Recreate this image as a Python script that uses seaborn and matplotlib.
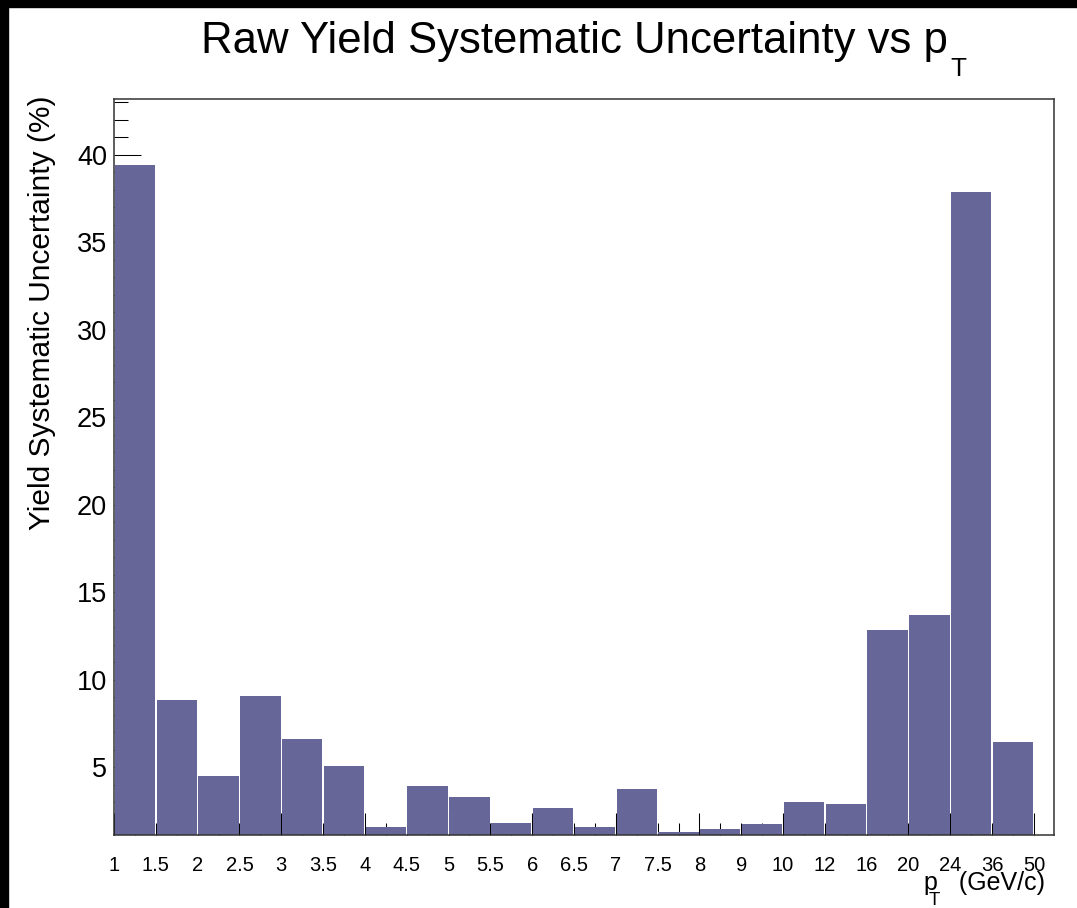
import numpy as np
import pandas as pd
import matplotlib
matplotlib.use("Agg")
import matplotlib.pyplot as plt
from matplotlib.patches import Rectangle
from matplotlib.ticker import FixedLocator, FixedFormatter, MultipleLocator
import seaborn as sns

# pT bin edges (GeV/c), drawn as equal-width bins labelled by their edges
pt_edges = ["1", "1.5", "2", "2.5", "3", "3.5", "4", "4.5", "5", "5.5", "6", "6.5",
            "7", "7.5", "8", "9", "10", "12", "16", "20", "24", "36", "50"]
# raw-yield systematic uncertainty per bin (%)
syst_unc = [39.42, 8.81, 4.49, 9.05, 6.62, 5.04, 1.59, 3.92, 3.29, 1.79, 2.66, 1.59,
            3.73, 1.29, 1.46, 1.73, 2.98, 2.87, 12.82, 13.72, 37.86, 6.41]
y_major = [5, 10, 15, 20, 25, 30, 35, 40]

sns.set_theme(style="white")
plt.rcParams["font.family"] = ["Liberation Sans", "DejaVu Sans"]
plt.rcParams["text.color"] = "black"
plt.rcParams["axes.labelcolor"] = "black"
plt.rcParams["xtick.color"] = "black"
plt.rcParams["ytick.color"] = "black"

W, H = 1077, 908
n_bins = len(syst_unc)
df = pd.DataFrame({"bin": np.arange(n_bins) + 0.5, "unc": syst_unc})
edge_pos = np.arange(len(pt_edges))

fig = plt.figure(figsize=(W / 100, H / 100), dpi=100, facecolor="white")
ax = fig.add_axes([114 / W, 1 - 835 / H, 940 / W, 736 / H])
ax.set_facecolor("white")

# bars sit above the tick marks; the thin gaps between bars let ticks show through
sns.histplot(data=df, x="bin", weights="unc", bins=[float(e) for e in edge_pos],
             shrink=0.965, color="#666699", alpha=1, linewidth=0,
             ax=ax, zorder=3)

ax.set_xlim(0, 22.48)
ax.set_ylim(1.12, 43.18)

# x axis: labels at every bin edge, long ticks every second edge
ax.xaxis.set_major_locator(FixedLocator(edge_pos[::2]))
ax.xaxis.set_major_formatter(FixedFormatter(pt_edges[::2]))
ax.xaxis.set_minor_locator(FixedLocator(edge_pos[1::2]))
ax.xaxis.set_minor_formatter(FixedFormatter(pt_edges[1::2]))
ax.tick_params(axis="x", which="both", direction="in", labelsize=14.5, pad=15.3,
               color="black", width=0.75, bottom=True, top=False)
ax.tick_params(axis="x", which="major", length=15.8)
ax.tick_params(axis="x", which="minor", length=8.6)

# short ticks at bin centres
sec = ax.secondary_xaxis("bottom")
sec.set_xticks(edge_pos[:-1] + 0.5)
sec.tick_params(direction="in", length=8.6, width=0.75, color="black",
                labelbottom=False)
sec.spines["bottom"].set_visible(False)

# y axis
ax.yaxis.set_major_locator(FixedLocator(y_major))
ax.yaxis.set_minor_locator(MultipleLocator(1))
ax.tick_params(axis="y", which="both", direction="in", labelsize=19.5, pad=5,
               color="black", width=0.75, left=True, right=False)
ax.tick_params(axis="y", which="major", length=19.4)
ax.tick_params(axis="y", which="minor", length=10)

for sp in ax.spines.values():
    sp.set_visible(True)
    sp.set_color("#333333")
    sp.set_linewidth(1.1)
    sp.set_zorder(4)

ax.set_ylabel("Yield Systematic Uncertainty (%)", fontsize=21.5, loc="top")
ax.yaxis.set_label_coords(-0.062, 1.005)

# x title: "p", subscript "T" placed below it, then the unit
ax.set_xlabel("p   (GeV/c)", fontsize=18, loc="right")
ax.xaxis.label.set_verticalalignment("baseline")
ax.xaxis.set_label_coords(0.9899, -0.0745)
fig.text(929 / W, 1 - 905 / H, "T", ha="left", va="baseline", fontsize=13.4)

# title with subscript T
title = fig.text(574 / W, 1 - 53.3 / H, "Raw Yield Systematic Uncertainty vs p",
                 ha="center", va="baseline", fontsize=31.5)
ax.annotate("T", xy=(1, 0), xycoords=title, xytext=(2.5, -13.4),
            textcoords="offset pixels", ha="left", va="baseline", fontsize=18.8,
            annotation_clip=False)

# dark window border on the left and top
fig.patches.append(Rectangle((0, 0), 8 / W, 1, transform=fig.transFigure,
                             color="black", zorder=10))
fig.patches.append(Rectangle((0, 1 - 7 / H), 1, 7 / H, transform=fig.transFigure,
                             color="black", zorder=10))

fig.savefig("out.png", dpi=100, facecolor="white")
